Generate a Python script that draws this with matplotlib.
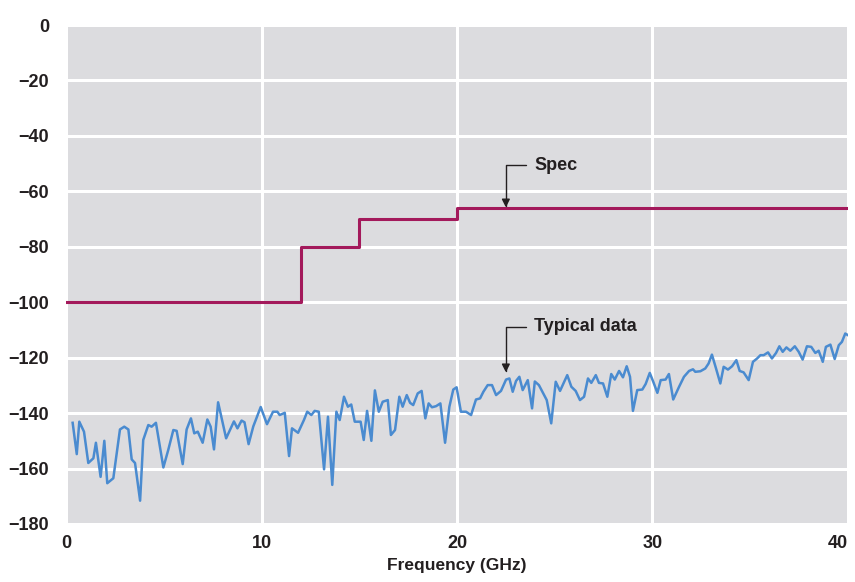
import matplotlib.pyplot as plt

# spec limit steps (GHz edges, dB level)
spec_freq = [0, 12, 15, 20, 40]
spec_level = [-100, -80, -70, -66, -66]

data_freq = [0.34, 0.55, 0.68, 0.92, 1.14, 1.40, 1.53, 1.77, 1.96, 2.11,
             2.42, 2.76, 2.98, 3.19, 3.36, 3.53, 3.79, 3.95, 4.21, 4.38,
             4.60, 4.98, 5.23, 5.49, 5.66, 5.97, 6.17, 6.39, 6.56, 6.74,
             6.99, 7.23, 7.40, 7.57, 7.78, 8.19, 8.59, 8.77, 8.98, 9.13,
             9.34, 9.58, 9.96, 10.28, 10.59, 10.81, 10.93, 11.19, 11.41, 11.56,
             11.87, 12.17, 12.34, 12.55, 12.72, 12.93, 13.20, 13.40, 13.62, 13.83,
             14.00, 14.22, 14.42, 14.59, 14.77, 15.07, 15.23, 15.40, 15.62, 15.80,
             16.00, 16.20, 16.46, 16.62, 16.83, 17.05, 17.22, 17.43, 17.60, 17.76,
             17.99, 18.19, 18.38, 18.55, 18.72, 18.93, 19.15, 19.39, 19.61, 19.81,
             19.98, 20.20, 20.46, 20.72, 20.97, 21.18, 21.35, 21.57, 21.79, 22.00,
             22.25, 22.51, 22.68, 22.85, 23.02, 23.19, 23.36, 23.62, 23.84, 23.98,
             24.19, 24.59, 24.82, 25.05, 25.27, 25.64, 25.85, 26.07, 26.29, 26.50,
             26.70, 26.87, 27.10, 27.26, 27.47, 27.69, 27.89, 28.07, 28.29, 28.49,
             28.68, 28.85, 29.00, 29.22, 29.48, 29.65, 29.86, 30.04, 30.25, 30.42,
             30.67, 30.84, 31.06, 31.36, 31.61, 31.87, 32.07, 32.19, 32.45, 32.70,
             32.87, 33.04, 33.25, 33.47, 33.64, 33.86, 34.07, 34.29, 34.46, 34.66,
             34.92, 35.14, 35.35, 35.52, 35.69, 35.91, 36.11, 36.32, 36.49, 36.66,
             36.85, 37.05, 37.28, 37.48, 37.68, 37.90, 38.12, 38.33, 38.50, 38.71,
             38.87, 39.10, 39.32, 39.53, 39.69, 39.86, 40.00]
data_level = [-143.5, -154.8, -143.1, -146.7, -158.0, -156.3, -150.7, -163.0, -150.0, -165.3,
              -163.5, -145.9, -144.9, -145.9, -156.7, -158.0, -171.6, -149.7, -144.3, -144.9,
              -143.5, -159.6, -153.3, -146.1, -146.4, -158.4, -145.9, -141.9, -147.3, -146.7,
              -150.7, -142.3, -144.9, -153.1, -136.1, -149.1, -143.0, -145.5, -142.7, -143.3,
              -151.2, -144.8, -137.8, -144.0, -139.5, -139.5, -140.7, -139.9, -155.5, -145.5,
              -147.1, -142.5, -139.5, -140.7, -139.2, -139.5, -160.3, -141.3, -165.9, -139.5,
              -142.5, -134.1, -137.7, -136.9, -143.1, -143.1, -149.7, -139.2, -150.0, -131.8,
              -139.5, -135.9, -135.3, -147.9, -146.1, -134.1, -137.7, -133.5, -136.3, -137.1,
              -132.9, -132.0, -141.9, -136.5, -137.9, -137.5, -136.5, -150.7, -137.7, -131.5,
              -130.7, -139.5, -139.5, -140.7, -135.1, -134.7, -132.3, -129.9, -129.9, -133.5,
              -132.0, -127.9, -127.5, -132.3, -128.4, -126.9, -131.7, -128.1, -138.3, -128.6,
              -129.9, -135.3, -143.7, -128.7, -132.0, -126.3, -130.5, -132.0, -135.3, -134.1,
              -127.5, -129.1, -126.3, -129.1, -129.3, -134.1, -125.9, -127.9, -124.8, -127.1,
              -123.1, -126.9, -139.2, -131.7, -131.5, -129.5, -125.5, -128.7, -132.7, -128.1,
              -127.9, -125.9, -135.1, -130.5, -126.9, -124.8, -124.2, -125.1, -124.9, -123.9,
              -122.1, -118.9, -123.9, -129.3, -123.3, -124.3, -123.1, -120.9, -124.8, -125.3,
              -128.1, -121.5, -120.3, -119.1, -119.1, -118.1, -120.3, -118.3, -115.9, -117.9,
              -116.3, -117.5, -115.9, -117.9, -120.7, -115.9, -116.1, -118.3, -117.5, -121.5,
              -116.1, -115.3, -120.5, -115.5, -114.3, -111.3, -111.9]

x_ticks = [0, 10, 20, 30, 40]
y_ticks = [0, -20, -40, -60, -80, -100, -120, -140, -160, -180]

plt.rcParams['font.family'] = ['Liberation Sans Narrow', 'Liberation Sans', 'DejaVu Sans']
plt.rcParams['font.weight'] = 'bold'
plt.rcParams['font.stretch'] = 'condensed'

fig = plt.figure(figsize=(8.55, 5.82), dpi=100)
ax = fig.add_axes([0.0772, 0.0997, 0.9146, 0.8573])
ax.set_facecolor('#dcdcdf')

#     spec limit as steps
ax.step(spec_freq, spec_level, where='post', color='#a3195b', linewidth=2.2, zorder=3)
#     measured data
ax.plot(data_freq, data_level, color='#4a8bd0', linewidth=1.8, zorder=3)

ax.set_xlim(0, 40)
ax.set_ylim(-180, 0)
ax.set_xticks(x_ticks)
ax.set_yticks(y_ticks)
ax.grid(True, color='white', linewidth=2.2)
ax.set_axisbelow(True)
for side in ax.spines.values():
    side.set_visible(False)
ax.tick_params(length=0, labelsize=13, colors='#231f20')
ax.tick_params(axis='y', pad=12)
ax.tick_params(axis='x', pad=8)
#     keep the last frequency label inside the figure
ax.get_xticklabels()[-1].set_horizontalalignment('right')
ax.set_xlabel('Frequency (GHz)', fontsize=12.5, fontweight='bold', color='#231f20', labelpad=4)

#     callouts with angled arrows
arrow_style = dict(arrowstyle='-|>', color='#231f20', linewidth=1.0, mutation_scale=12,
                   connectionstyle='angle,angleA=0,angleB=90,rad=0',
                   relpos=(0, 0.5), shrinkA=4, shrinkB=0)
ax.annotate('Spec', xy=(22.5, -65.8), xytext=(23.95, -50.5), fontsize=13,
            fontweight='bold', color='#231f20', ha='left', va='center',
            arrowprops=arrow_style)
ax.annotate('Typical data', xy=(22.5, -125.3), xytext=(23.95, -108.8), fontsize=13,
            fontweight='bold', color='#231f20', ha='left', va='center',
            arrowprops=arrow_style)

plt.savefig('out.png', dpi=100)
